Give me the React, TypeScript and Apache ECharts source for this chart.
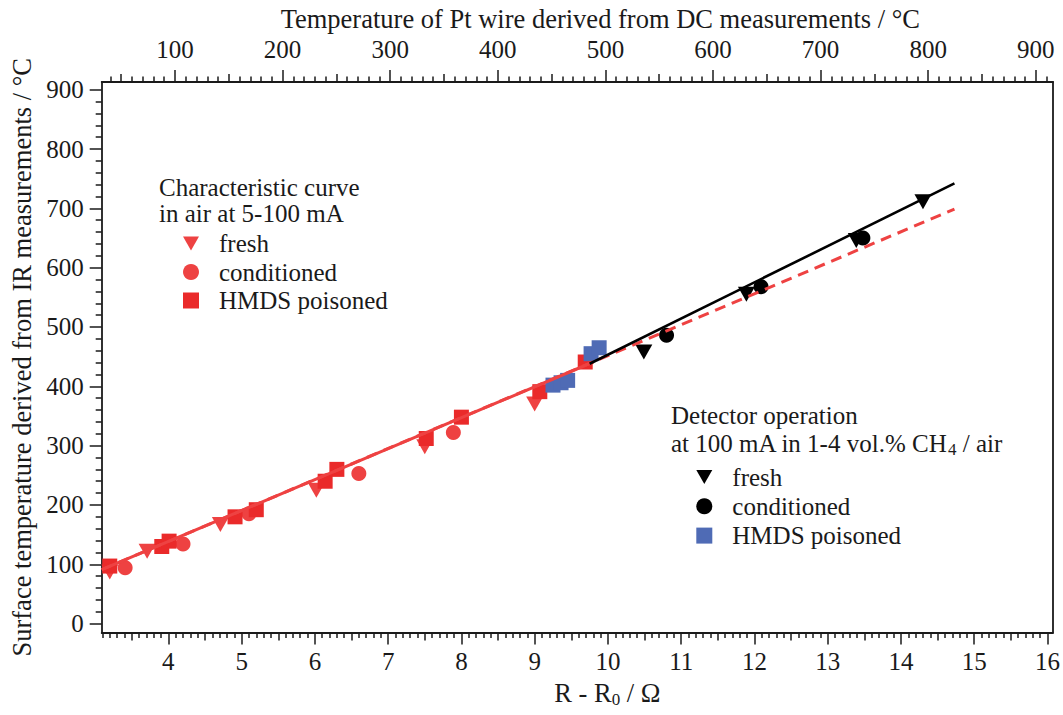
import React, { useEffect, useRef } from 'react';
import * as echarts from 'echarts';

const FONT = '"Liberation Serif", "Times New Roman", serif';
const INK = '#1a1a1a';
const RED = '#ee4242';
const RED_SQ = '#ea2a2a';
const BLUE = '#4f6bb5';
const DOWN_TRIANGLE = 'path://M0,0L17,0L8.5,15Z';

// ---- axis ranges and tick values ----
const rMin = 3.09;
const rMax = 16.075;
const rMajor = [4, 5, 6, 7, 8, 9, 10, 11, 12, 13, 14, 15, 16];
const rHalf = [3.5, 4.5, 5.5, 6.5, 7.5, 8.5, 9.5, 10.5, 11.5, 12.5, 13.5, 14.5, 15.5];
const rMinor: number[] = [];
for (let i = 31; i <= 160; i++) if (i % 5 !== 0) rMinor.push(i / 10);

const tMin = 31.9;
const tMax = 916;
const tMajor = [100, 200, 300, 400, 500, 600, 700, 800, 900];
const tHalf = [50, 150, 250, 350, 450, 550, 650, 750, 850];
const tMinor: number[] = [];
for (let v = 40; v <= 910; v += 10) if (v % 50 !== 0) tMinor.push(v);

const yMin = -15;
const yMax = 913;
const yMajor = [0, 100, 200, 300, 400, 500, 600, 700, 800, 900];
const yMinor: number[] = [];
for (let v = 20; v <= 900; v += 20) if (v % 100 !== 0) yMinor.push(v);

// ---- data: characteristic curve in air (5-100 mA) ----
const airFresh = [[3.2, 87], [3.71, 122], [4.71, 167], [6.02, 225], [7.5, 298], [9.0, 370]];
const airConditioned = [[3.41, 94], [4.2, 134], [5.1, 185], [6.6, 253], [7.89, 322], [9.39, 408]];
const airHmds = [
  [3.2, 97], [3.91, 130], [4.01, 139], [4.91, 180], [5.2, 192], [6.14, 240],
  [6.3, 260], [7.52, 312], [8.0, 348], [9.07, 391], [9.69, 441],
];

// ---- data: detector operation at 100 mA in CH4 / air ----
const ch4Fresh = [[10.49, 458], [11.89, 555], [13.39, 646], [14.3, 711]];
const ch4Conditioned = [[10.8, 486], [12.09, 568], [13.48, 650]];
const ch4Hmds = [[9.25, 402], [9.36, 406], [9.45, 410], [9.77, 455], [9.88, 465]];

// ---- fit lines ----
const airFitSolid = [[3.09, 91], [9.8, 441]];
const airFitDashed = [[3.09, 91], [14.73, 698.6]];
const ch4Fit = [[9.75, 438], [14.73, 742]];

const legendLabels: Record<string, string> = {
  'air-fresh': 'fresh',
  'air-cond': 'conditioned',
  'air-hmds': 'HMDS poisoned',
  'ch4-fresh': 'fresh',
  'ch4-cond': 'conditioned',
  'ch4-hmds': 'HMDS poisoned',
};

const labelStyle = { fontFamily: FONT, fontSize: 25, color: INK };
const titleStyle = { fontFamily: FONT, fontSize: 26.5, color: INK };
const lineStyle = { color: INK, width: 1.8 };

function tickAxis(pos: 'bottom' | 'top', min: number, max: number, values: number[], len: number) {
  return {
    type: 'value',
    position: pos,
    min,
    max,
    axisLine: { show: false, onZero: false },
    axisTick: { show: true, length: len, customValues: values, lineStyle: { color: INK, width: 1.5 } },
    axisLabel: { show: false, customValues: values },
    splitLine: { show: false },
  };
}

export default function App() {
  const ref = useRef<HTMLDivElement>(null);
  useEffect(() => {
    if (!ref.current) return;
    const chart = echarts.init(ref.current, undefined, { renderer: 'svg' });
    const sub = { fontFamily: FONT, fontSize: 17, lineHeight: 10, verticalAlign: 'bottom', color: INK, fill: INK };
    const option: any = {
      animation: false,
      backgroundColor: '#ffffff',
      grid: { left: 101.7, right: 9.5, top: 82, bottom: 82.5 },
      xAxis: [
        {
          type: 'value',
          position: 'bottom',
          min: rMin,
          max: rMax,
          name: 'R - R{sub|0} / Ω',
          nameLocation: 'middle',
          nameGap: 44,
          nameTextStyle: { ...titleStyle, lineHeight: 30, padding: [0, 0, 0, 60], rich: { sub } },
          axisLine: { show: true, onZero: false, lineStyle },
          axisTick: { show: true, length: 12, customValues: rMajor, lineStyle: { color: INK, width: 1.5 } },
          axisLabel: { ...labelStyle, margin: 16, customValues: rMajor },
          splitLine: { show: false },
        },
        tickAxis('bottom', rMin, rMax, rHalf, 8),
        tickAxis('bottom', rMin, rMax, rMinor, 5.5),
        {
          type: 'value',
          position: 'top',
          min: tMin,
          max: tMax,
          name: 'Temperature of Pt wire derived from DC measurements / °C',
          nameLocation: 'middle',
          nameGap: 50,
          nameTextStyle: { ...titleStyle, padding: [0, 0, 0, 46] },
          axisLine: { show: true, onZero: false, lineStyle },
          axisTick: { show: true, length: 12, customValues: tMajor, lineStyle: { color: INK, width: 1.5 } },
          axisLabel: { ...labelStyle, margin: 20, customValues: tMajor },
          splitLine: { show: false },
        },
        tickAxis('top', tMin, tMax, tHalf, 8),
        tickAxis('top', tMin, tMax, tMinor, 5.5),
      ],
      yAxis: [
        {
          type: 'value',
          position: 'left',
          min: yMin,
          max: yMax,
          name: 'Surface temperature derived from IR measurements / °C',
          nameLocation: 'middle',
          nameGap: 65,
          nameTextStyle: { ...titleStyle },
          axisLine: { show: true, onZero: false, lineStyle },
          axisTick: { show: true, length: 12, customValues: yMajor, lineStyle: { color: INK, width: 1.5 } },
          axisLabel: { ...labelStyle, margin: 18, customValues: yMajor },
          splitLine: { show: false },
        },
        {
          type: 'value',
          position: 'left',
          min: yMin,
          max: yMax,
          axisLine: { show: false, onZero: false },
          axisTick: { show: true, length: 6, customValues: yMinor, lineStyle: { color: INK, width: 1.5 } },
          axisLabel: { show: false, customValues: yMinor },
          splitLine: { show: false },
        },
        {
          type: 'value',
          position: 'right',
          min: yMin,
          max: yMax,
          axisLine: { show: true, onZero: false, lineStyle },
          axisTick: { show: false },
          axisLabel: { show: false },
          splitLine: { show: false },
        },
      ],
      legend: [
        {
          data: [{ name: 'air-fresh', icon: DOWN_TRIANGLE }, 'air-cond', 'air-hmds'],
          orient: 'vertical',
          left: 178,
          top: 226,
          itemWidth: 16,
          itemHeight: 16,
          itemGap: 3.5,
          selectedMode: false,
          formatter: (n: string) => legendLabels[n],
          textStyle: { ...labelStyle, lineHeight: 25, padding: [0, 0, 0, 15] },
        },
        {
          data: [{ name: 'ch4-fresh', icon: DOWN_TRIANGLE }, 'ch4-cond', 'ch4-hmds'],
          orient: 'vertical',
          left: 691.3,
          top: 459.5,
          itemWidth: 16,
          itemHeight: 16,
          itemGap: 4.3,
          selectedMode: false,
          formatter: (n: string) => legendLabels[n],
          textStyle: { ...labelStyle, lineHeight: 25, padding: [0, 0, 0, 15] },
        },
      ],
      graphic: [
        { type: 'text', left: 159, top: 175, style: { text: 'Characteristic curve', fontFamily: FONT, fontSize: 25, fill: INK } },
        { type: 'text', left: 159, top: 201, style: { text: 'in air at 5-100 mA', fontFamily: FONT, fontSize: 25, fill: INK } },
        { type: 'text', left: 671, top: 403, style: { text: 'Detector operation', fontFamily: FONT, fontSize: 25, fill: INK } },
        {
          type: 'text',
          left: 671,
          top: 428,
          style: {
            text: 'at 100 mA in 1-4 vol.% CH{sub|4} / air',
            fontFamily: FONT,
            fontSize: 25,
            lineHeight: 30,
            fill: INK,
            rich: { sub },
          },
        },
      ],
      series: [
        { name: 'air-fresh', type: 'scatter', data: airFresh, symbol: 'triangle', symbolRotate: 180, symbolSize: [17, 15], itemStyle: { color: RED, opacity: 1 }, z: 3 },
        { name: 'air-cond', type: 'scatter', data: airConditioned, symbol: 'circle', symbolSize: 15, itemStyle: { color: RED, opacity: 1 }, z: 3 },
        { name: 'air-hmds', type: 'scatter', data: airHmds, symbol: 'rect', symbolSize: 15, itemStyle: { color: RED_SQ, opacity: 1 }, z: 3 },
        { name: 'ch4-hmds', type: 'scatter', data: ch4Hmds, symbol: 'rect', symbolSize: 15, itemStyle: { color: BLUE, opacity: 1 }, z: 3 },
        { name: 'ch4-fresh', type: 'scatter', data: ch4Fresh, symbol: 'triangle', symbolRotate: 180, symbolSize: [17, 15], itemStyle: { color: '#000', opacity: 1 }, z: 3 },
        { name: 'ch4-cond', type: 'scatter', data: ch4Conditioned, symbol: 'circle', symbolSize: 15, itemStyle: { color: '#000', opacity: 1 }, z: 3 },
        { name: 'fit-air', type: 'line', data: airFitSolid, symbol: 'none', lineStyle: { color: RED, width: 3 }, z: 4 },
        { name: 'fit-air-ext', type: 'line', data: airFitDashed, symbol: 'none', lineStyle: { color: RED, width: 3, type: [11, 7] }, z: 4 },
        { name: 'fit-ch4', type: 'line', data: ch4Fit, symbol: 'none', lineStyle: { color: '#000', width: 2.6 }, z: 5 },
      ],
    };
    chart.setOption(option);
    return () => chart.dispose();
  }, []);
  return <div ref={ref} style={{ position: 'absolute', left: 0, top: 0, width: 1063, height: 715 }} />;
}
